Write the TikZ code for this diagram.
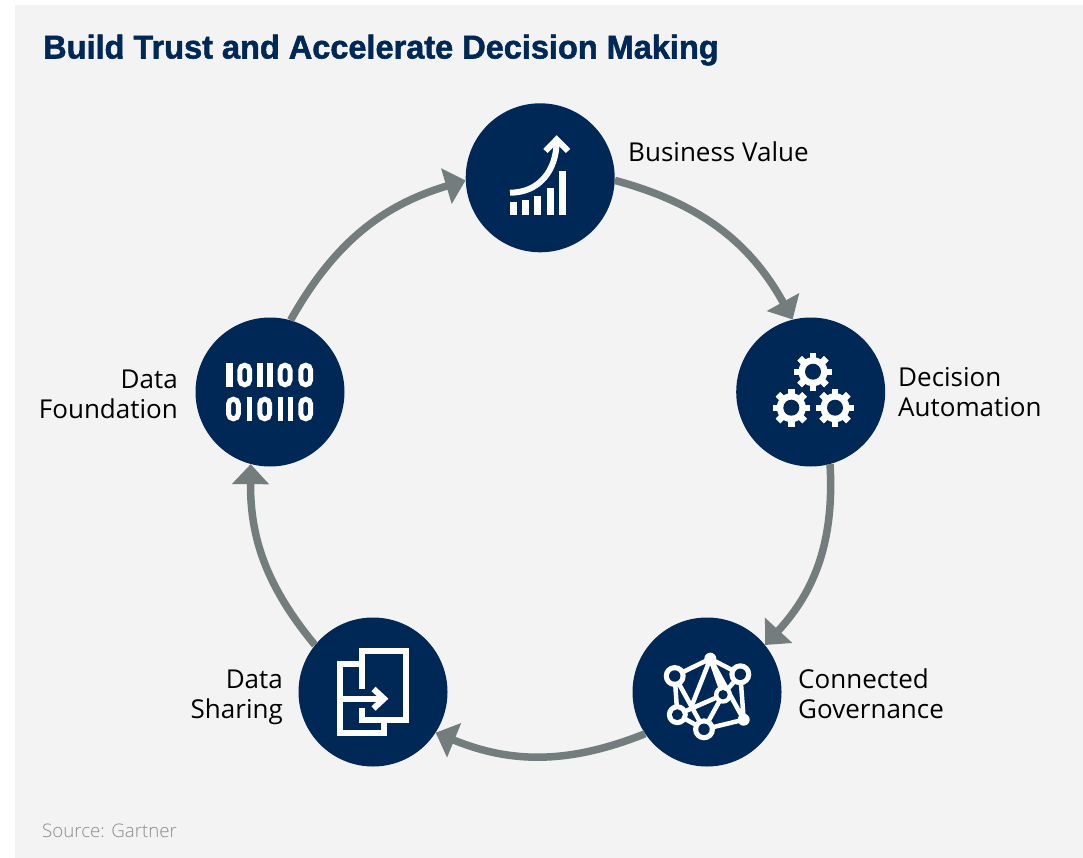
\documentclass[tikz,border=0pt]{standalone}
\usepackage{fontspec}
\setmainfont{Open Sans}
\newfontfamily\titlefont[FakeBold=1.6,FakeStretch=0.985]{Liberation Sans Bold}
\newfontfamily\srcfont{Open Sans Light}
\usetikzlibrary{arrows.meta}
\definecolor{navy}{HTML}{002856}
\definecolor{panel}{HTML}{F3F3F3}
\definecolor{flowgray}{HTML}{737D7D}
\definecolor{srcgray}{HTML}{8C8C8C}
\tikzset{
  hub/.style={circle,fill=navy,minimum size=149pt,inner sep=0pt},
  flow/.style={draw=flowgray,line width=7.5pt,-{Triangle[length=20pt,width=36pt]}},
  lab/.style={font=\fontsize{26}{30}\selectfont,text=black,inner sep=0pt,anchor=base west,align=left},
  labr/.style={font=\fontsize{26}{30}\selectfont,text=black,inner sep=0pt,anchor=base east,align=right},
  ink/.style={draw=white,line width=6pt},
  netline/.style={draw=white,line width=4.5pt},
}
\newcommand{\gearicon}[2]{%
  \begin{scope}[shift={(#1,#2)}]
    \foreach \a in {0,45,...,315}{
      \fill[white,rotate=\a] (-3.2,-18.8) rectangle (3.2,18.8);
    }
    \fill[white] (0,0) circle (14.5);
    \fill[navy] (0,0) circle (8);
  \end{scope}}
\newcommand{\binzero}[2]{\draw[draw=white,line width=5pt,rounded corners=4.9pt] (#1+2.5,#2+2.5) rectangle (#1+12.3,#2+22.1);}
\newcommand{\binone}[3]{\fill[white] (#1,#2) rectangle (#1+#3,#2+24.6);}
\newcommand{\ringdot}[3]{\fill[white] (#1,#2) circle (#3); \fill[navy] (#1,#2) circle (#3*0.52);}
\begin{document}
\begin{tikzpicture}[x=1pt,y=-1pt]
\useasboundingbox (0,0) rectangle (1083,858);
\fill[white] (0,0) rectangle (1083,858);
\fill[panel] (15,5) rectangle (1083,858);

\node[inner sep=0pt,anchor=base west,text=navy,font=\fontsize{33}{36}\selectfont\titlefont] (title) at (43,58.5) {Build Trust and Accelerate Decision Making};
\node[inner sep=0pt,anchor=base west,text=srcgray,font=\fontsize{18.7}{20}\selectfont\srcfont] (source) at (42,837) {Source: Gartner};

\node[hub] (bv) at (540.2,177.8) {};
\node[hub] (da) at (810.7,392) {};
\node[hub] (cg) at (707,692) {};
\node[hub] (ds) at (373,692) {};
\node[hub] (df) at (270,392) {};

\draw[flow] (bv.-2) to[bend left=23] (da.104);
\draw[flow] (da.-75) to[bend left=23] (cg.39);
\draw[flow] (cg.-146.5) to[bend left=22] (ds.-33);
\draw[flow] (ds.141) to[bend left=20] (df.-105);
\draw[flow] (df.74) to[bend left=22] (bv.-178);

\node[lab] (lbv) at (628,161.5) {Business Value};
\node[lab] (lda) at (898,416.5) {Decision\\Automation};
\node[lab] (lcg) at (798,718.5) {Connected\\Governance};
\node[labr] (lds) at (283,718.5) {Data\\Sharing};
\node[labr] (ldf) at (178,418.5) {Data\\Foundation};

% growth icon
\fill[white] (510,201.7) rectangle (517,215);
\fill[white] (522,199.7) rectangle (529,215);
\fill[white] (534,196) rectangle (541,215);
\fill[white] (547,187.7) rectangle (554,215);
\fill[white] (559,170.7) rectangle (566,215);
\draw[ink] (510,192.7) .. controls (538,192.7) and (556.7,172) .. (556.7,140);
\draw[ink,line join=miter] (545.5,151) -- (556.7,139.5) -- (568,151);

% gears
\gearicon{813}{371.7}
\gearicon{791.3}{407.7}
\gearicon{835}{407.7}

% network
\draw[netline,line join=round]
  (674.7,676) -- (710.3,658.7) -- (740.3,674.3) -- (743.7,719.7) -- (704,729.3) -- (677.3,714.7) -- cycle
  (674.7,676) -- (704,729.3)
  (710.3,658.7) -- (692,705)
  (710.3,658.7) -- (723,694.7)
  (740.3,674.3) -- (723,694.7)
  (710.3,658.7) -- (743.7,719.7)
  (677.3,714.7) -- (723,694.7)
  (704,729.3) -- (723,694.7);
\ringdot{674.7}{676}{11}
\ringdot{740.3}{674.3}{11}
\ringdot{677.3}{714.7}{10.5}
\ringdot{704}{729.3}{11}
\ringdot{723}{694.7}{9}
\fill[white] (710.3,658.7) circle (6);
\fill[white] (743.7,719.7) circle (6);

% documents
\draw[ink,line join=miter] (362,689) -- (362,651) -- (406,651) -- (406,720) -- (362,720) -- (362,708);
\draw[ink,line join=miter] (359,664.3) -- (340.3,664.3) -- (340.3,733) -- (384.3,733) -- (384.3,722);
\draw[ink] (340.3,698.7) -- (384,698.7);
\draw[ink,line join=miter] (373.5,689) -- (384,698.7) -- (373.5,708.5);

% binary
\binone{226}{362.7}{6.7}
\binzero{237.3}{362.7}
\binone{257.3}{362.7}{5.4}
\binone{267.3}{362.7}{5.4}
\binzero{277.7}{362.7}
\binzero{298.3}{362.7}
\binzero{226}{396.7}
\binone{246.7}{396.7}{5.4}
\binzero{257.3}{396.7}
\binone{277.7}{396.7}{5.4}
\binone{287.7}{396.7}{5.4}
\binzero{298.3}{396.7}
\end{tikzpicture}
\end{document}
